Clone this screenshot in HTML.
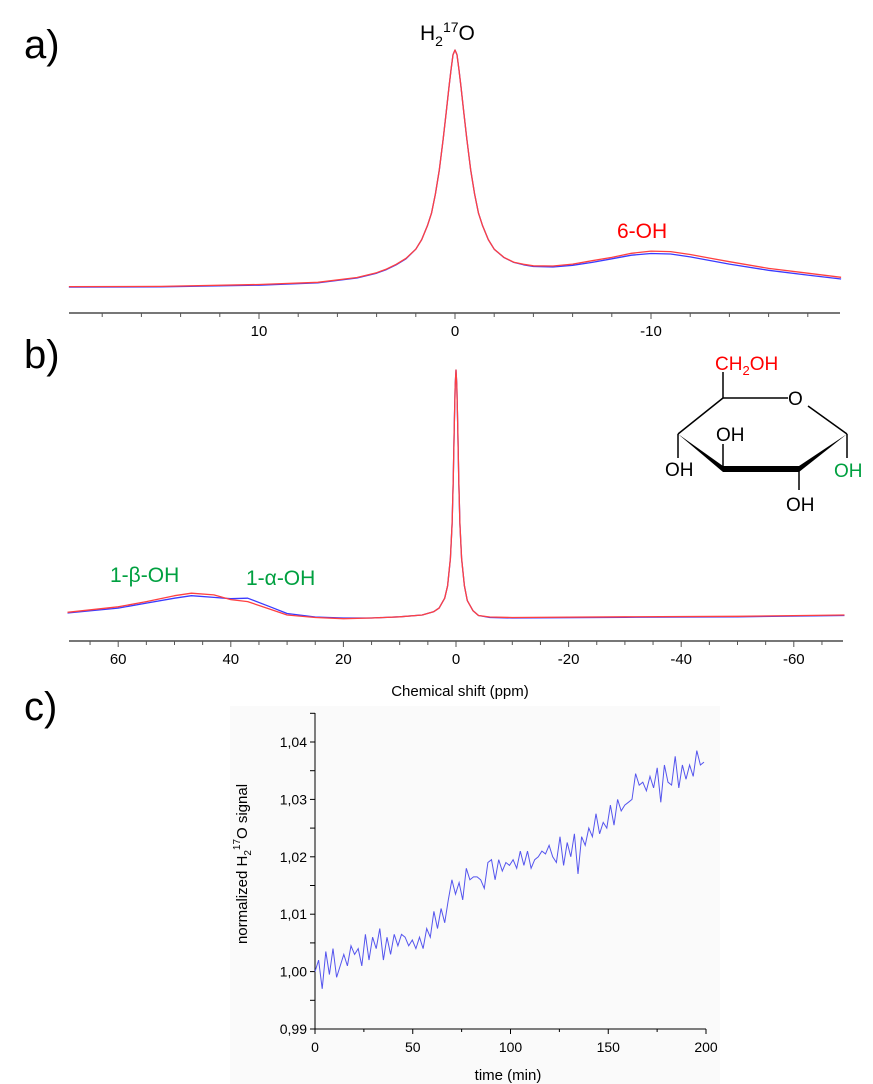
<!DOCTYPE html>
<html><head><meta charset="utf-8"><style>
body{margin:0;background:#fff;}
svg{display:block;font-family:"Liberation Sans",Arial,sans-serif;}
</style></head><body>
<svg id="fig" width="873" height="1084" viewBox="0 0 873 1084" xmlns="http://www.w3.org/2000/svg">
<rect x="0" y="0" width="873" height="1084" fill="#fff"/>
<text x="24" y="58" font-size="40">a)</text>
<text x="24" y="368" font-size="40">b)</text>
<text x="24" y="720" font-size="40">c)</text>
<text x="420" y="40" font-size="21">H<tspan font-size="14" dy="6">2</tspan><tspan font-size="14" dy="-14">17</tspan><tspan dy="8">O</tspan></text>
<text x="617" y="238" font-size="21" fill="#ff0000">6-OH</text>
<text x="110" y="582" font-size="21" fill="#00a040">1-β-OH</text>
<text x="246" y="585" font-size="21" fill="#00a040">1-α-OH</text>
<text x="460" y="696" font-size="15" text-anchor="middle">Chemical shift (ppm)</text>
<g id="glucose" stroke="#000" stroke-width="1.5" fill="none">
<line x1="723" y1="398" x2="723" y2="372"/>
<line x1="723" y1="398" x2="788" y2="398"/>
<line x1="808" y1="406" x2="847" y2="434"/>
<line x1="723" y1="398" x2="678" y2="434"/>
<line x1="678" y1="434" x2="678" y2="458"/>
<line x1="723" y1="469" x2="723" y2="444"/>
<line x1="847" y1="434" x2="847" y2="458"/>
<line x1="799" y1="469" x2="799" y2="490"/>
<polygon points="678,434 723,466 723,472" fill="#000" stroke="none"/>
<polygon points="723,466 799,466 799,472 723,472" fill="#000" stroke="none"/>
<polygon points="799,466 847,434 799,472" fill="#000" stroke="none"/>
</g>
<text x="715" y="370" font-size="19" fill="#ff0000">CH<tspan font-size="13" dy="5">2</tspan><tspan dy="-5">OH</tspan></text>
<text x="788" y="405" font-size="19">O</text>
<text x="716" y="441" font-size="19">OH</text>
<text x="665" y="476" font-size="19">OH</text>
<text x="834" y="477" font-size="19" fill="#00a040">OH</text>
<text x="786" y="511" font-size="19">OH</text>
<rect x="230" y="706" width="490" height="378" fill="#fafafa"/>
<text x="508" y="1080" font-size="15" text-anchor="middle">time (min)</text>
<text transform="translate(247,864) rotate(-90)" font-size="15" text-anchor="middle">normalized H<tspan font-size="10" dy="4">2</tspan><tspan font-size="10" dy="-11">17</tspan><tspan dy="7">O signal</tspan></text>
</svg>
<script>
// Panel a data (ppm, intensity %)
const aPpm = [19.7,15,10,7,5,4,3.5,3,2.5,2,1.7,1.4,1.2,1,0.8,0.6,0.45,0.3,0.2,0.1,0,-0.1,-0.2,-0.3,-0.45,-0.6,-0.8,-1,-1.2,-1.4,-1.7,-2,-2.5,-3,-3.5,-4,-5,-6,-7,-8,-9,-10,-11,-12,-13,-14,-16,-18,-19.7];
const aBlue = [1.2,1.3,2,3,5,7,8.5,10.5,13,17,21,27,32,40,50,63,74,85,92,98,100,98,92,85,74,63,50,40,32,27,21,17,13.5,11.5,10.5,9.8,9.6,10.3,11.5,13,14.5,15.2,15,13.8,12.3,10.8,8.2,6.2,4.6];
const aRed  = [1.4,1.5,2.3,3.2,5.2,7.2,8.7,10.7,13.2,17,21,27,32,40,50,63,74,85,92,98,100,98,92,85,74,63,50,40,32,27,21,17,13.6,11.6,10.7,10.1,10,10.8,12.2,13.6,15.3,16.2,16,14.8,13.3,11.8,9,7,5.3];
const aTicks = [10,0,-10];
// Panel b data
const bPpm = [69,60,55,50,47,43,40,37,33,30,25,20,15,10,6,4,3,2,1.5,1,0.7,0.5,0.3,0.15,0,-0.15,-0.3,-0.5,-0.7,-1,-1.5,-2,-3,-4,-6,-10,-30,-50,-69];
const bBlue = [2,4,6,8,9,8.3,7.8,8,4.5,1.8,0.4,0,0,0.5,1.2,2.5,4,8,13,24,38,55,78,94,100,94,78,55,38,24,13,7,3,1,0.2,0,0.3,0.5,1];
const bRed  = [2.3,4.5,6.6,9,10,9.3,7.4,6.6,3.5,1.2,0.2,-0.3,0,0.5,1.2,2.5,4,8,13,24,38,55,78,94,100,94,78,55,38,24,13,7,3,1,0.4,0.2,0.5,0.7,1.2];
const bTicks = [60,40,20,0,-20,-40,-60];
// Panel c data
const cSignal = [1.000,1.002,0.997,1.0035,0.9995,1.004,0.999,1.001,1.003,1.001,1.0045,1.003,1.004,1.001,1.0065,1.002,1.006,1.004,1.0075,1.002,1.006,1.003,1.0065,1.0045,1.0065,1.006,1.0045,1.0055,1.004,1.006,1.004,1.0075,1.006,1.0105,1.0075,1.011,1.0085,1.0125,1.016,1.0135,1.0155,1.0125,1.018,1.016,1.0165,1.0165,1.016,1.0145,1.019,1.0195,1.016,1.0195,1.0175,1.019,1.0185,1.0195,1.018,1.021,1.0185,1.021,1.018,1.0195,1.020,1.021,1.0205,1.022,1.020,1.019,1.0235,1.0185,1.0225,1.020,1.024,1.017,1.0235,1.022,1.025,1.0235,1.0275,1.024,1.026,1.025,1.029,1.0255,1.030,1.028,1.029,1.0295,1.030,1.0345,1.0325,1.033,1.0315,1.034,1.032,1.0355,1.0295,1.036,1.033,1.0325,1.0375,1.032,1.036,1.0335,1.036,1.034,1.0385,1.036,1.0365];
const cTime = cSignal.map((v,i)=>i*199/(cSignal.length-1));
const cXTicks = [0,50,100,150,200];
const cYTicks = [0.99,1.00,1.01,1.02,1.03,1.04];
const cYLabels = ["0,99","1,00","1,01","1,02","1,03","1,04"];

const svg = document.getElementById('fig');
const NS = 'http://www.w3.org/2000/svg';
function mk(tag, attrs){const e=document.createElementNS(NS,tag);for(const k in attrs)e.setAttribute(k,attrs[k]);svg.appendChild(e);return e;}

const axA = {x:p=>455-p*19.6, y:v=>290-v*2.4};
const axB = {x:p=>456-p*5.63, y:v=>618-v*2.48};
function drawSpectrum(ax, ppm, vals, color, name){
  const pts = ppm.map((p,i)=>ax.x(p).toFixed(1)+','+ax.y(vals[i]).toFixed(1)).join(' ');
  const e = mk('polyline',{points:pts,fill:'none',stroke:color,'stroke-width':1.3,'stroke-linejoin':'round'});
  
  
}
drawSpectrum(axA,aPpm,aBlue,'#3a3aff','spectrum-a-blue');
drawSpectrum(axA,aPpm,aRed,'#ff4040','spectrum-a-red');
drawSpectrum(axB,bPpm,bBlue,'#3a3aff','spectrum-b-blue');
drawSpectrum(axB,bPpm,bRed,'#ff4040','spectrum-b-red');

function drawPpmAxis(ax, y, x0, x1, minorStep, majorStep, lo, hi, ticks, name){
  const l = mk('line',{x1:x0,y1:y,x2:x1,y2:y,stroke:'#777','stroke-width':2});
  
  
  for(let p=lo;p<=hi+1e-9;p+=minorStep){
    const x=ax.x(p); if(x<x0||x>x1) continue;
    const major = Math.abs(p/majorStep-Math.round(p/majorStep))<1e-6;
    mk('line',{x1:x,y1:y,x2:x,y2:y+(major?6:4),stroke:'#555','stroke-width':1});
  }
  ticks.forEach(t=>{
    const tx = mk('text',{x:ax.x(t),y:y+23,'font-size':15,'text-anchor':'middle'});
    tx.textContent = t;
    
    
  });
}
drawPpmAxis(axA,313,69,840,2,10,-18,18,aTicks,'x-axis-a');
drawPpmAxis(axB,641,69,843,5,20,-65,65,bTicks,'x-axis-b');

// Panel c
const axC = {x:t=>315+t*1.955, y:v=>1029-(v-0.99)*5740};
let e = mk('line',{x1:315,y1:713,x2:315,y2:1029,stroke:'#000','stroke-width':1});


e = mk('line',{x1:315,y1:1029,x2:706,y2:1029,stroke:'#000','stroke-width':1});


for(let t=0;t<=200;t+=25){const x=axC.x(t);mk('line',{x1:x,y1:1029,x2:x,y2:t%50===0?1034:1032,stroke:'#000','stroke-width':1});}
cXTicks.forEach(t=>{const tx=mk('text',{x:axC.x(t),y:1052,'font-size':14,'text-anchor':'middle'});tx.textContent=t;

});
for(let v=0.99;v<=1.0451;v+=0.005){const y=axC.y(v);mk('line',{x1:310,y1:y,x2:315,y2:y,stroke:'#000','stroke-width':1});}
cYTicks.forEach((v,i)=>{const tx=mk('text',{x:307,y:axC.y(v)+5,'font-size':14,'text-anchor':'end'});tx.textContent=cYLabels[i];

});
const cp = cTime.map((t,i)=>axC.x(t).toFixed(1)+','+axC.y(cSignal[i]).toFixed(1)).join(' ');
e = mk('polyline',{points:cp,fill:'none',stroke:'#5555ee','stroke-width':1});


</script>
</body></html>
